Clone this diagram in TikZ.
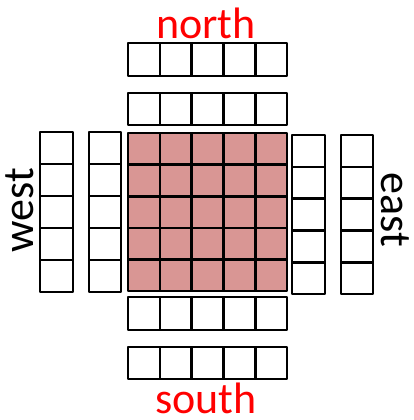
\documentclass[tikz,border=0pt]{standalone}
\usepackage{fontspec}
\setmainfont{Carlito}
\definecolor{cellred}{RGB}{217,150,148}
\definecolor{labred}{RGB}{255,0,0}
\tikzset{
  cellline/.style={draw=black, line width=2.6pt, line join=round},
  lab/.style={text=labred, font=\fontsize{44}{44}\selectfont, inner sep=0pt},
  sidelab/.style={text=black, font=\fontsize{44}{44}\selectfont, inner sep=0pt}
}
% horizontal row of 5 cells: x0, y0 (top), width, height
\newcommand{\hrowcells}[4]{%
  \draw[cellline] (#1,-#2) rectangle (#1+#3,-#2-#4);
  \foreach \i in {1,...,4}{\draw[cellline] (#1+\i*#3/5,-#2) -- (#1+\i*#3/5,-#2-#4);}
}
\newcommand{\vcolcells}[4]{%
  \draw[cellline] (#1,-#2) rectangle (#1+#3,-#2-#4);
  \foreach \i in {1,...,4}{\draw[cellline] (#1,-#2-\i*#4/5) -- (#1+#3,-#2-\i*#4/5);}
}
\begin{document}
\begin{tikzpicture}[x=1pt,y=1pt]
\useasboundingbox (0,0) rectangle (413,-420);
% central grid
\fill[cellred] (128,-133) rectangle (287,-291);
\foreach \i in {1,...,4}{
  \draw[cellline] (128+\i*31.8,-133) -- (128+\i*31.8,-291);
  \draw[cellline] (128,-133-\i*31.6) -- (287,-133-\i*31.6);
}
\draw[cellline] (128,-133) rectangle (287,-291);
% north
\hrowcells{128}{43}{159}{33}
\hrowcells{128}{93}{159}{32}
% south
\hrowcells{128}{297}{159}{33}
\hrowcells{128}{347}{159}{32}
% west
\vcolcells{40}{132}{33}{160}
\vcolcells{89}{132}{32}{160}
% east
\vcolcells{292}{135}{33}{159}
\vcolcells{341}{135}{32}{159}
% labels
\node[lab, anchor=base] (north) at (206,-39) {north};
\node[lab, anchor=base] (south) at (206,-413) {south};
\node[sidelab, anchor=base, rotate=90] (west) at (33,-210) {west};
\node[sidelab, anchor=base, rotate=-90] (east) at (381,-210) {east};
\end{tikzpicture}
\end{document}
